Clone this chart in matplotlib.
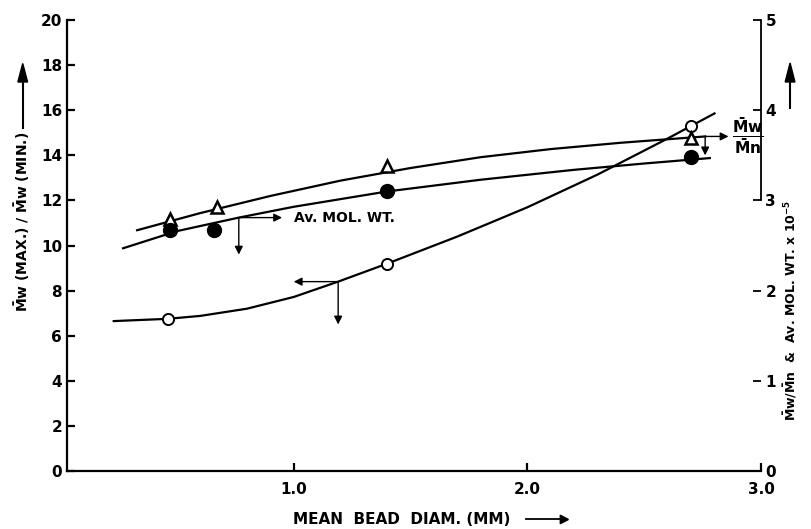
import numpy as np
import matplotlib.pyplot as plt

# points
# open circles -> left axis (Mw max / Mw min)
ratio_x = [0.46, 1.40, 2.70]
ratio_y = [6.75, 9.2, 15.3]
# triangles -> right axis (Mw/Mn)
tri_x = [0.47, 0.67, 1.40, 2.70]
tri_y = [2.80, 2.93, 3.38, 3.69]
# filled circles -> right axis (av. mol. wt. x 1e-5)
mw_x = [0.47, 0.66, 1.40, 2.70]
mw_y = [2.67, 2.67, 3.10, 3.48]

# hand drawn curves
ratio_cx = [0.23, 0.46, 0.6, 0.8, 1.0, 1.19, 1.4, 1.7, 2.0, 2.3, 2.6, 2.8]
ratio_cy = [6.65, 6.75, 6.88, 7.2, 7.72, 8.40, 9.2, 10.4, 11.7, 13.15, 14.75, 15.86]
tri_cx = [0.33, 0.6, 0.9, 1.2, 1.5, 1.8, 2.1, 2.4, 2.76]
tri_cy = [2.67, 2.86, 3.05, 3.22, 3.36, 3.48, 3.57, 3.64, 3.71]
mw_cx = [0.27, 0.5, 0.765, 1.0, 1.4, 1.8, 2.2, 2.5, 2.78]
mw_cy = [2.47, 2.66, 2.81, 2.93, 3.10, 3.23, 3.34, 3.41, 3.47]

left_ticks = [0, 2, 4, 6, 8, 10, 12, 14, 16, 18, 20]
right_ticks = [0, 1, 2, 3, 4, 5]
x_ticks = [1.0, 2.0, 3.0]

plt.rcParams['font.family'] = 'DejaVu Sans'
plt.rcParams['font.weight'] = 'bold'

fig = plt.figure(figsize=(8.12, 5.29), dpi=100)
ax = fig.add_axes([0.0825, 0.1096, 0.855, 0.8524])
ax2 = ax.twinx()

ax.set_xlim(0.03, 3.0)
ax.set_ylim(0, 20)
ax2.set_ylim(0, 5)

ax.plot(ratio_cx, ratio_cy, color='k', lw=1.6)
ax.plot(ratio_x, ratio_y, 'o', ms=8, mfc='white', mec='k', mew=1.4)

ax2.plot(tri_cx, tri_cy, color='k', lw=1.6)
ax2.plot(tri_x, tri_y, '^', ms=8, mfc='white', mec='k', mew=1.8)
ax2.plot(mw_cx, mw_cy, color='k', lw=1.6)
ax2.plot(mw_x, mw_y, 'o', ms=10, mfc='k', mec='k')

arr = dict(arrowstyle='-|>', lw=1.0, color='k', mutation_scale=12, shrinkA=0, shrinkB=0)
# av. mol. wt. pointer
ax2.annotate('', xy=(0.95, 2.81), xytext=(0.765, 2.81), arrowprops=arr)
ax2.annotate('', xy=(0.765, 2.40), xytext=(0.765, 2.81), arrowprops=arr)
ax2.text(1.0, 2.81, 'Av. MOL. WT.', fontsize=10, fontweight='bold', va='center')
# lower curve pointer -> left axis
ax.annotate('', xy=(1.0, 8.40), xytext=(1.19, 8.40), arrowprops=arr)
ax.annotate('', xy=(1.19, 6.5), xytext=(1.19, 8.40), arrowprops=arr)
# Mw/Mn pointer
ax2.annotate('', xy=(2.86, 3.71), xytext=(2.76, 3.71), arrowprops=arr)
ax2.annotate('', xy=(2.76, 3.50), xytext=(2.76, 3.71), arrowprops=arr)
ax2.text(2.875, 3.71, r'$\mathbf{\frac{\bar{M}w}{\bar{M}n}}$', fontsize=16, va='center',
         clip_on=False)

for a in (ax, ax2):
    a.spines['top'].set_visible(False)
ax.spines['right'].set_visible(False)
ax2.spines['left'].set_visible(False)
ax2.spines['bottom'].set_visible(False)
ax2.spines['right'].set_bounds(3, 5)
for s in ('left', 'bottom'):
    ax.spines[s].set_linewidth(1.6)
ax2.spines['right'].set_linewidth(1.3)

ax.set_xticks(x_ticks)
ax.set_xticklabels(['1.0', '2.0', '3.0'])
ax.set_yticks(left_ticks)
ax2.set_yticks(right_ticks)
ax.tick_params(axis='both', direction='in', length=6, width=1.6, labelsize=11)
ax.tick_params(axis='x', pad=8)
ax2.tick_params(axis='y', direction='in', length=6, width=1.3, labelsize=11, pad=3)
for lab in ax.get_xticklabels() + ax.get_yticklabels() + ax2.get_yticklabels():
    lab.set_fontweight('bold')

# axis titles with arrows
fig.text(0.495, 0.018, 'MEAN  BEAD  DIAM. (MM)', fontsize=11, fontweight='bold',
         ha='center', va='center')
fig.add_artist(plt.Line2D([0.648, 0.693], [0.018, 0.018], color='k', lw=1.3,
                          transform=fig.transFigure))
fig.patches.append(plt.Polygon([[0.690, 0.026], [0.700, 0.018], [0.690, 0.010]],
                               closed=True, color='k', transform=fig.transFigure))

fig.text(0.028, 0.58, r'$\mathbf{\bar{M}w}$ (MAX.) / $\mathbf{\bar{M}w}$ (MIN.)', rotation=90,
         fontsize=10, fontweight='bold', ha='center', va='center')
fig.add_artist(plt.Line2D([0.028, 0.028], [0.758, 0.85], color='k', lw=1.5,
                          transform=fig.transFigure))
fig.patches.append(plt.Polygon([[0.022, 0.845], [0.028, 0.88], [0.034, 0.845]],
                               closed=True, color='k', transform=fig.transFigure))

fig.text(0.973, 0.414, r'$\mathbf{\bar{M}w / \bar{M}n}$  &  Av. MOL. WT. x 10$^{\mathbf{-5}}$',
         rotation=90, fontsize=9, fontweight='bold', ha='center', va='center')
fig.add_artist(plt.Line2D([0.973, 0.973], [0.796, 0.85], color='k', lw=1.5,
                          transform=fig.transFigure))
fig.patches.append(plt.Polygon([[0.967, 0.845], [0.973, 0.881], [0.979, 0.845]],
                               closed=True, color='k', transform=fig.transFigure))

fig.savefig('out.png', dpi=100)
